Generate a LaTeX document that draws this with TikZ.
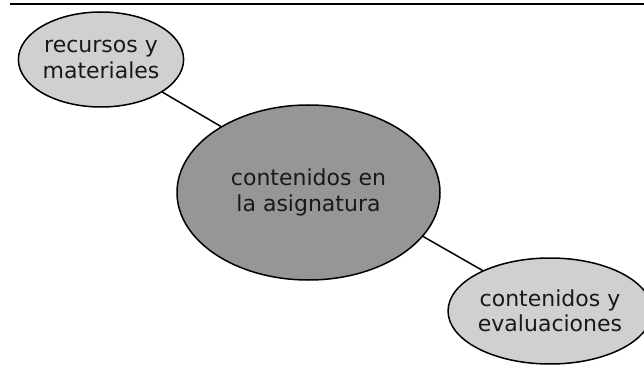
\documentclass[tikz,border=0pt]{standalone}
\usepackage{fontspec}
\setmainfont{DejaVu Sans}
\usetikzlibrary{shapes.geometric}
\definecolor{darkfill}{RGB}{150,150,150}
\definecolor{lightfill}{RGB}{208,208,208}
\definecolor{inktext}{RGB}{25,25,25}
\begin{document}
\begin{tikzpicture}[x=1pt,y=-1pt,
  bubble/.style={ellipse, draw=black, line width=1.5pt, inner sep=0pt, align=center,
     text=inktext, font=\fontsize{22}{25.5}\selectfont},
  link/.style={draw=black, line width=1.5pt}]
\useasboundingbox (0,0) rectangle (644,371);
\coordinate (ruleL) at (10,4);
\coordinate (ruleR) at (644,4);
\draw[line width=1.6pt] (ruleL) -- (ruleR);
\node[bubble, fill=lightfill, minimum width=164pt, minimum height=95pt] (res) at (101,59.5) {recursos y\\materiales};
\node[bubble, fill=darkfill, minimum width=263pt, minimum height=175pt] (cen) at (308.5,192.5) {contenidos en\\la asignatura};
\node[bubble, fill=lightfill, minimum width=186pt, minimum height=106pt] (eva) at (550,311) {contenidos y\\evaluaciones};
\draw[link] (res.-28.8) -- (cen.143.9);
\draw[link] (cen.-21.8) -- (eva.149.7);
\end{tikzpicture}
\end{document}
